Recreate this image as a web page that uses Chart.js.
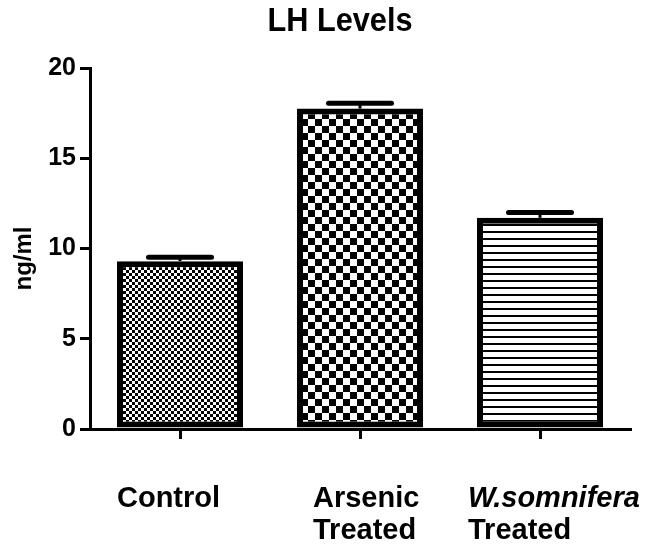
<!DOCTYPE html>
<html>
<head>
<meta charset="utf-8">
<script src="https://cdn.jsdelivr.net/npm/chart.js@4/dist/chart.umd.min.js"></script>
<style>
  html, body { margin: 0; padding: 0; background: #ffffff; }
  #wrap { width: 649px; height: 544px; }
</style>
</head>
<body>
<div id="wrap"><canvas id="c" width="649" height="544"></canvas></div>
<script>
// ---- data ----
const chartTitle = 'LH Levels';
const yAxisTitle = 'ng/ml';
const categories = [['Control'], ['Arsenic', 'Treated'], ['W.somnifera', 'Treated']];
const italicFirstLine = [false, false, true];
const lhMeans = [9.3, 17.75, 11.7];
const lhSem = [0.22, 0.3, 0.3];
const yTicks = [0, 5, 10, 15, 20];

// ---- styles ----
const FONT = "'Liberation Sans', Arial, sans-serif";
const labelOffsets = [-63, -47, -72];

function makePattern(kind) {
  const t = document.createElement('canvas');
  const g = t.getContext('2d');
  if (kind === 'fineChecker' || kind === 'coarseChecker') {
    const s = kind === 'fineChecker' ? 3 : 7;
    t.width = t.height = 2 * s;
    g.fillStyle = '#fff'; g.fillRect(0, 0, 2 * s, 2 * s);
    g.fillStyle = '#000';
    g.fillRect(0, 0, s, s); g.fillRect(s, s, s, s);
  } else {
    t.width = 8; t.height = 7;
    g.fillStyle = '#fff'; g.fillRect(0, 0, 8, 7);
    g.fillStyle = '#000'; g.fillRect(0, 0, 8, 2);
  }
  return document.createElement('canvas').getContext('2d').createPattern(t, 'repeat');
}
const fills = [makePattern('fineChecker'), makePattern('coarseChecker'), makePattern('hlines')];

const errorBars = {
  id: 'errorBars',
  afterDatasetsDraw(chart) {
    const ctx = chart.ctx;
    const ys = chart.scales.y;
    const meta = chart.getDatasetMeta(0);
    ctx.save();
    ctx.strokeStyle = '#000';
    meta.data.forEach((bar, i) => {
      const top = ys.getPixelForValue(lhMeans[i] + lhSem[i]);
      const half = bar.width / 4;
      ctx.lineWidth = 3;
      ctx.lineCap = 'butt';
      ctx.beginPath(); ctx.moveTo(bar.x, bar.y); ctx.lineTo(bar.x, top); ctx.stroke();
      ctx.lineWidth = 5;
      ctx.lineCap = 'round';
      ctx.beginPath(); ctx.moveTo(bar.x - half, top); ctx.lineTo(bar.x + half, top); ctx.stroke();
    });
    ctx.restore();
  }
};

const texts = {
  id: 'texts',
  afterDraw(chart) {
    const ctx = chart.ctx;
    const xs = chart.scales.x;
    const area = chart.chartArea;
    ctx.save();
    ctx.fillStyle = '#000';
    // title
    ctx.save();
    ctx.font = 'bold 33px ' + FONT;
    ctx.textAlign = 'center';
    ctx.textBaseline = 'alphabetic';
    ctx.translate(340, 31);
    ctx.scale(0.93, 1);
    ctx.fillText(chartTitle, 0, 0);
    ctx.restore();
    // y title
    ctx.save();
    ctx.font = 'bold 24px ' + FONT;
    ctx.textAlign = 'center';
    ctx.textBaseline = 'middle';
    ctx.translate(24, (area.top + area.bottom) / 2 + 10);
    ctx.rotate(-Math.PI / 2);
    ctx.fillText(yAxisTitle, 0, 0);
    ctx.restore();
    // category labels
    ctx.textBaseline = 'alphabetic';
    ctx.textAlign = 'left';
    categories.forEach((lines, i) => {
      const x = xs.getPixelForValue(i) + labelOffsets[i];
      lines.forEach((ln, j) => {
        const ital = (j === 0 && italicFirstLine[i]) ? 'italic ' : '';
        ctx.font = ital + 'bold 29px ' + FONT;
        ctx.fillText(ln, x, area.bottom + 78 + j * 32);
      });
    });
    ctx.restore();
  }
};

new Chart(document.getElementById('c'), {
  type: 'bar',
  data: {
    labels: categories.map(l => l.join(' ')),
    datasets: [{
      data: lhMeans,
      backgroundColor: fills,
      borderColor: '#000',
      borderWidth: 6,
      borderSkipped: false,
      barPercentage: 0.7,
      categoryPercentage: 1.0
    }]
  },
  options: {
    responsive: false,
    animation: false,
    devicePixelRatio: 1,
    layout: { padding: { left: 0, right: 19, top: 68, bottom: 0 } },
    plugins: {
      legend: { display: false },
      tooltip: { enabled: false },
      title: { display: false }
    },
    scales: {
      x: {
        type: 'category',
        offset: true,
        grid: { display: true, drawOnChartArea: false, drawTicks: true, tickLength: 10, lineWidth: 3, color: '#000', offset: false },
        border: { display: true, color: '#000', width: 3 },
        ticks: { display: false },
        afterFit(s) { s.height = 115; }
      },
      y: {
        min: 0, max: 20,
        afterBuildTicks(s) { s.ticks = yTicks.map(v => ({ value: v })); },
        grid: { display: true, drawOnChartArea: false, drawTicks: true, tickLength: 10, lineWidth: 3, color: '#000' },
        border: { display: true, color: '#000', width: 3 },
        ticks: { color: '#000', padding: 4, font: { family: FONT, size: 25, weight: 'bold' } },
        title: { display: false },
        afterFit(s) { s.width = 90; }
      }
    }
  },
  plugins: [errorBars, texts]
});
</script>
</body>
</html>
